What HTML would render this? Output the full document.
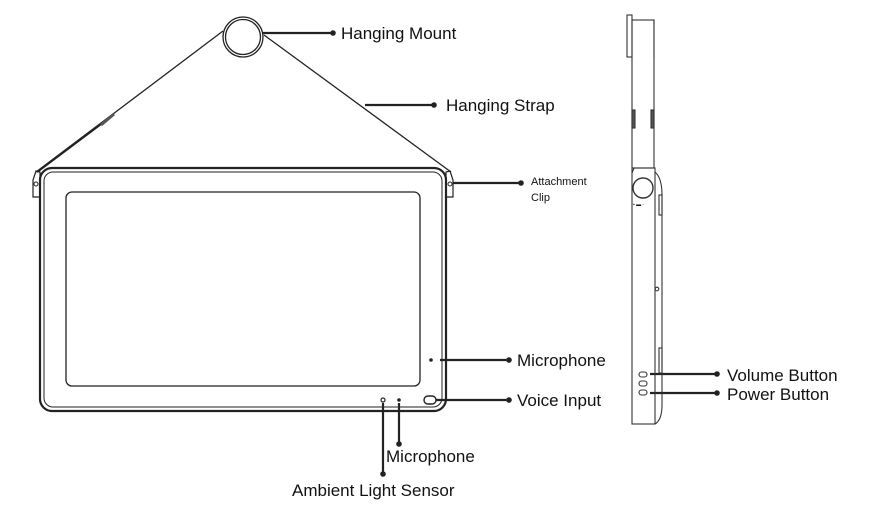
<!DOCTYPE html>
<html><head><meta charset="utf-8"><style>
html,body{margin:0;padding:0;background:#fff;}
svg{display:block;}
text{font-family:"Liberation Sans",sans-serif;fill:#111;}
</style></head><body>
<svg width="888" height="507" viewBox="0 0 888 507" xmlns="http://www.w3.org/2000/svg">
<g fill="none" stroke="#222">
<!-- straps -->
<line x1="223" y1="31" x2="36" y2="172" stroke-width="1.3"/>
<line x1="264" y1="35" x2="451" y2="172" stroke-width="1.3"/>
<line x1="37" y1="172" x2="101" y2="124" stroke-width="2.2"/>
<line x1="101" y1="125" x2="114" y2="114" stroke-width="3" stroke="#555"/>
<!-- mount -->
<circle cx="243" cy="37" r="20" stroke-width="1.3"/>
<circle cx="243" cy="37" r="17.5" stroke-width="1.3"/>
<!-- tablet -->
<rect x="40" y="168" width="406" height="243" rx="12" stroke-width="2.2"/>
<rect x="44" y="172" width="398" height="235" rx="9" stroke-width="1"/>
<rect x="66" y="192" width="354" height="194" rx="6" stroke-width="1.3"/>
<!-- clips -->
<path d="M33 197 V180 L36 171 L40 172 V197 Z" stroke-width="1.2"/>
<circle cx="36" cy="184" r="2"/>
<path d="M453 197 V180 L450 171 L446 172 V197 Z" stroke-width="1.2"/>
<circle cx="450" cy="184" r="2"/>
<!-- features -->
<rect x="424" y="396" width="12" height="8" rx="4" stroke-width="1.4"/>
<circle cx="383" cy="400" r="2" stroke-width="1.2"/>
</g>
<g fill="#222">
<circle cx="431" cy="360" r="1.8"/>
<circle cx="399" cy="400" r="1.8"/>
</g>
<!-- leaders -->
<g stroke="#222" stroke-width="2.2">
<line x1="263" y1="33" x2="332" y2="33"/>
<line x1="365" y1="105" x2="433" y2="105"/>
<line x1="453" y1="183" x2="521" y2="183"/>
<line x1="440" y1="360" x2="508" y2="360"/>
<line x1="436" y1="400" x2="508" y2="400"/>
<line x1="383" y1="403" x2="383" y2="473"/>
<line x1="399" y1="403" x2="399" y2="444"/>
<line x1="650" y1="374" x2="716" y2="374"/>
<line x1="650" y1="393" x2="716" y2="393"/>
</g>
<g fill="#222">
<circle cx="333" cy="33" r="2.8"/>
<circle cx="434" cy="105" r="2.8"/>
<circle cx="521" cy="183" r="2.8"/>
<circle cx="509" cy="360" r="2.8"/>
<circle cx="509" cy="400" r="2.8"/>
<circle cx="383" cy="474" r="2.8"/>
<circle cx="399" cy="444" r="2.8"/>
<circle cx="717" cy="374" r="2.8"/>
<circle cx="717" cy="393" r="2.8"/>
</g>
<!-- side view -->
<g fill="none" stroke="#333" stroke-width="1.1">
<rect x="627" y="15" width="5" height="42"/>
<rect x="632" y="20" width="22" height="148"/>
<line x1="654" y1="20" x2="654" y2="57"/>
<rect x="632" y="110" width="3" height="18" fill="#555"/>
<rect x="651" y="110" width="3" height="18" fill="#555"/>
<rect x="632" y="168" width="23" height="256"/>
<path d="M634 168 L632 173"/>
<path d="M655 172 Q662 178 662 195 V405 Q662 420 655 424"/>
<rect x="659" y="195" width="3" height="20"/>
<rect x="659" y="348" width="3" height="25"/>
<circle cx="643" cy="188" r="10" stroke-width="1.4"/>
<circle cx="657" cy="289" r="1.8"/>
<rect x="639" y="372" width="8" height="5" rx="2.5"/>
<rect x="639" y="381" width="8" height="5" rx="2.5"/>
<rect x="639" y="390" width="8" height="5" rx="2.5"/>
</g>
<text x="633" y="206" font-size="5">▪ ▬ ◦</text>
<!-- labels -->
<text x="341" y="39" font-size="17">Hanging Mount</text>
<text x="446" y="111" font-size="17">Hanging Strap</text>
<text x="531" y="185" font-size="11">Attachment</text>
<text x="531" y="201" font-size="11">Clip</text>
<text x="517" y="366" font-size="17">Microphone</text>
<text x="517" y="406" font-size="17">Voice Input</text>
<text x="386" y="462" font-size="17">Microphone</text>
<text x="292" y="496" font-size="17">Ambient Light Sensor</text>
<text x="727" y="381" font-size="17">Volume Button</text>
<text x="727" y="400" font-size="17">Power Button</text>
</svg>
</body></html>
